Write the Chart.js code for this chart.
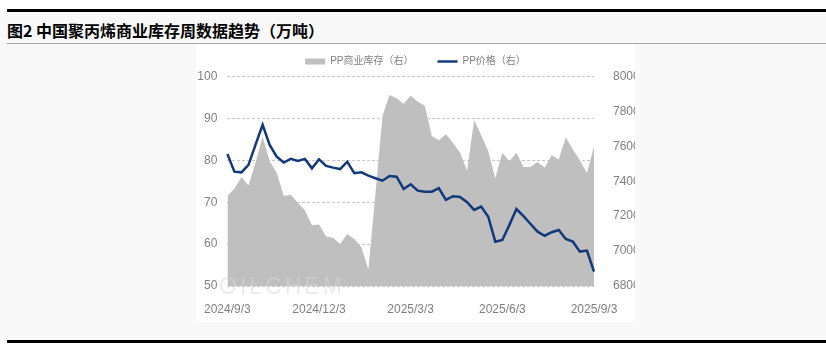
<!DOCTYPE html>
<html>
<head>
<meta charset="utf-8">
<script src="https://cdn.jsdelivr.net/npm/chart.js@4.4.1/dist/chart.umd.min.js"></script>
<style>
    html, body { margin: 0; padding: 0; background: #fff; }
    body { width: 826px; height: 345px; position: relative; overflow: hidden; }
    #band { position: absolute; left: 0; top: 12px; width: 826px; height: 328px; background: #f9f9f9; }
    #topline { position: absolute; left: 7px; top: 9px; width: 819px; height: 3px; background: #000; }
    #title { position: absolute; left: 7px; top: 18px; font: bold 16px "Noto Sans CJK SC", sans-serif; color: #000; white-space: nowrap; }
    #sep { position: absolute; left: 7px; top: 43px; width: 819px; height: 1px; background: #a6a6a6; }
    #card { position: absolute; left: 196px; top: 44px; width: 439px; height: 278px; background: #fff; }
    #botline { position: absolute; left: 7px; top: 340px; width: 819px; height: 3px; background: #000; }
</style>
</head>
<body>
<div id="band"></div>
<div id="topline"></div>
<div id="title">图2 中国聚丙烯商业库存周数据趋势（万吨）</div>
<div id="sep"></div>
<div id="card"><canvas id="chart" width="439" height="278"></canvas></div>
<div id="botline"></div>
<script>
    // weekly points, 2024/9/3 .. 2025/9/3
    const startDate = new Date(2024, 8, 3);
    const weeks = [];
    for (let i = 0; i < 53; i++) {
        const d = new Date(startDate.getTime() + i * 7 * 86400000);
        weeks.push(d.getFullYear() + '/' + (d.getMonth() + 1) + '/' + d.getDate());
    }

    const tickIndex = [0, 13, 26, 39, 52];
    const tickLabels = ['2024/9/3', '2024/12/3', '2025/3/3', '2025/6/3', '2025/9/3'];

    // PP商业库存, 万吨 (left axis)
    const inventory = [
        71.5, 73.2, 76.0, 74.0, 79.5, 85.6, 79.8, 77.0, 71.5, 71.8,
        69.8, 68.1, 64.5, 64.7, 61.8, 61.5, 60.0, 62.4, 61.2, 59.3,
        53.9, 72.0, 90.5, 95.6, 94.8, 93.5, 95.4, 94.0, 93.0, 85.8,
        84.8, 86.2, 84.2, 81.8, 77.5, 89.6, 86.0, 82.2, 75.7, 81.8,
        79.8, 81.8, 78.4, 78.4, 79.6, 78.2, 81.2, 80.2, 85.5, 82.6,
        80.0, 76.9, 83.3
    ];

    // PP价格, 元/吨 (right axis)
    const price = [
        7556, 7455, 7451, 7494, 7610, 7723, 7608, 7541, 7507, 7528,
        7516, 7528, 7474, 7526, 7488, 7478, 7470, 7512, 7446, 7451,
        7432, 7417, 7403, 7430, 7426, 7356, 7383, 7346, 7340, 7340,
        7360, 7293, 7314, 7310, 7280, 7236, 7255, 7197, 7054, 7064,
        7150, 7241, 7200, 7155, 7111, 7088, 7108, 7121, 7069, 7054,
        6997, 7003, 6882
    ];

    const fontFamily = '"Liberation Sans", "Noto Sans CJK SC", sans-serif';
    const tickColor = '#7f7f7f';

    const watermark = {
        id: 'watermark',
        afterDatasetsDraw(chart) {
            const ctx = chart.ctx;
            ctx.save();
            ctx.font = '23px "Liberation Sans", sans-serif';
            ctx.letterSpacing = '3px';
            ctx.fillStyle = 'rgba(215,215,215,0.5)';
            ctx.textBaseline = 'alphabetic';
            ctx.fillText('OILCHEM', 23, 250);
            ctx.restore();
        }
    };

    new Chart(document.getElementById('chart'), {
        type: 'line',
        data: {
            labels: weeks,
            datasets: [
                {
                    label: 'PP商业库存（右）',
                    data: inventory,
                    yAxisID: 'y',
                    fill: 'start',
                    backgroundColor: '#bfbfbf',
                    borderColor: '#bfbfbf',
                    borderWidth: 0,
                    pointRadius: 0,
                    tension: 0,
                    order: 1
                },
                {
                    label: 'PP价格（右）',
                    data: price,
                    yAxisID: 'y1',
                    fill: false,
                    borderColor: '#14397a',
                    backgroundColor: '#14397a',
                    borderWidth: 2.5,
                    pointRadius: 0,
                    tension: 0,
                    order: 0
                }
            ]
        },
        options: {
            responsive: false,
            animation: false,
            devicePixelRatio: 1,
            layout: { padding: { top: -11.5, left: 0, right: 0, bottom: 0 } },
            plugins: {
                tooltip: { enabled: false },
                legend: {
                    position: 'top',
                    labels: {
                        usePointStyle: true,
                        pointStyleWidth: 20,
                        boxHeight: 6,
                        padding: 24,
                        color: tickColor,
                        font: { size: 10, family: fontFamily },
                        sort: (a, b) => a.datasetIndex - b.datasetIndex,
                        generateLabels(chart) {
                            const items = Chart.defaults.plugins.legend.labels.generateLabels(chart);
                            items.forEach(item => {
                                if (item.datasetIndex === 0) {
                                    item.pointStyle = 'rect';
                                    item.fillStyle = '#bfbfbf';
                                    item.lineWidth = 0;
                                } else {
                                    item.pointStyle = 'line';
                                    item.strokeStyle = '#14397a';
                                    item.lineWidth = 2.5;
                                }
                            });
                            return items;
                        }
                    }
                }
            },
            scales: {
                x: {
                    type: 'category',
                    offset: false,
                    grid: { display: false },
                    border: { display: false },
                    ticks: {
                        autoSkip: false,
                        maxRotation: 0,
                        padding: 8,
                        color: tickColor,
                        font: { size: 12, family: fontFamily },
                        callback: (v, i) => {
                            const k = tickIndex.indexOf(i);
                            return k >= 0 ? tickLabels[k] : '';
                        }
                    },
                    afterFit: (scale) => { scale.height = 36; }
                },
                y: {
                    position: 'left',
                    min: 50,
                    max: 100,
                    ticks: {
                        stepSize: 10,
                        padding: 10,
                        color: tickColor,
                        font: { size: 12, family: fontFamily }
                    },
                    grid: { color: '#c8c8c8', drawTicks: false, lineWidth: 1 },
                    border: { display: false, dash: [3, 2] },
                    afterFit: (scale) => { scale.width = 31; }
                },
                y1: {
                    position: 'right',
                    min: 6800,
                    max: 8000,
                    ticks: {
                        stepSize: 200,
                        padding: 11,
                        color: tickColor,
                        font: { size: 12, family: fontFamily },
                        callback: (v) => String(v)
                    },
                    grid: { display: false },
                    border: { display: false },
                    afterFit: (scale) => { scale.width = 41; }
                }
            }
        },
        plugins: [watermark]
    });
</script>
</body>
</html>
